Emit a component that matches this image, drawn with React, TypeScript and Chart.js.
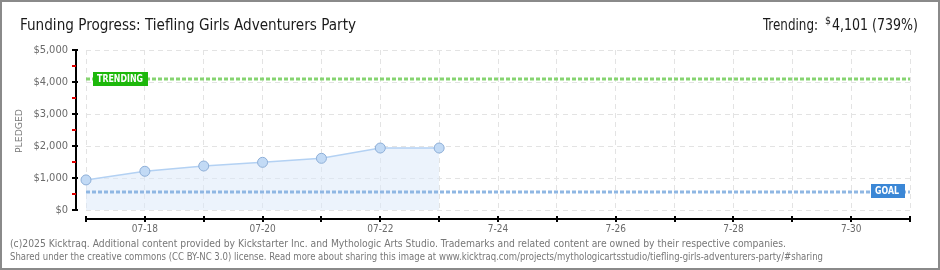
import React, { useEffect, useRef } from "react";
import { Chart, registerables } from "chart.js";

Chart.register(...registerables);

const days = ["07-17", "07-18", "07-19", "07-20", "07-21", "07-22", "07-23", "07-24", "07-25", "07-26", "07-27", "07-28", "07-29", "07-30", "07-31"];
const xTickLabels = ["", "07-18", "", "07-20", "", "07-22", "", "7-24", "", "7-26", "", "7-28", "", "7-30", ""];
const pledged = [940, 1210, 1375, 1490, 1615, 1937, 1937];
const goal = 555;
const trending = 4101;
const yTicks = [0, 1000, 2000, 3000, 4000, 5000];
const yMinorTicks = [500, 1500, 2500, 3500, 4500];
const title = "Funding Progress: Tiefling Girls Adventurers Party";
const trendingText = "Trending:";
const trendingAmount = "4,101 (739%)";
const footer1 = "(c)2025 Kicktraq. Additional content provided by Kickstarter Inc. and Mythologic Arts Studio. Trademarks and related content are owned by their respective companies.";
const footer2 = "Shared under the creative commons (CC BY-NC 3.0) license. Read more about sharing this image at www.kicktraq.com/projects/mythologicartsstudio/tiefling-girls-adventurers-party/#sharing";

const FONT = "'DejaVu Sans Condensed', 'DejaVu Sans', sans-serif";

function fitText(ctx: CanvasRenderingContext2D, text: string, x: number, y: number, w: number) {
  const m = ctx.measureText(text).width;
  ctx.save();
  ctx.translate(x, y);
  ctx.scale(w / m, 1);
  ctx.fillText(text, 0, 0);
  ctx.restore();
}

const decor = {
  id: "decor",
  beforeDraw(chart: any) {
    const ctx = chart.ctx as CanvasRenderingContext2D;
    ctx.save();
    ctx.fillStyle = "#ffffff";
    ctx.fillRect(0, 0, chart.width, chart.height);
    ctx.restore();
  },
  afterDatasetsDraw(chart: any) {
    const ctx = chart.ctx as CanvasRenderingContext2D;
    const ys = chart.scales.y;
    const xs = chart.scales.x;
    const area = chart.chartArea;
    ctx.save();
    // goal line
    const gy = Math.round(ys.getPixelForValue(goal));
    ctx.setLineDash([4, 2]);
    ctx.lineWidth = 3;
    ctx.strokeStyle = "#8fb7e3";
    ctx.beginPath();
    ctx.moveTo(area.left, gy);
    ctx.lineTo(area.right, gy);
    ctx.stroke();
    // trending line
    const ty = Math.round(ys.getPixelForValue(trending));
    ctx.strokeStyle = "#86d471";
    ctx.beginPath();
    ctx.moveTo(area.left, ty);
    ctx.lineTo(area.right, ty);
    ctx.stroke();
    ctx.setLineDash([]);

    // trending label
    ctx.fillStyle = "#1db80b";
    ctx.fillRect(area.left + 7, ty - 7, 55, 14);
    ctx.fillStyle = "#ffffff";
    ctx.font = `bold 10px ${FONT}`;
    ctx.textBaseline = "middle";
    fitText(ctx, "TRENDING", area.left + 11, ty + 0.5, 46);
    // goal label
    ctx.fillStyle = "#3b87d6";
    ctx.fillRect(area.right - 39, gy - 8, 34, 14);
    ctx.fillStyle = "#ffffff";
    fitText(ctx, "GOAL", area.right - 35, gy - 0.5, 24);

    // y axis
    const axX = area.left - 10;
    ctx.strokeStyle = "#000000";
    ctx.lineWidth = 2;
    ctx.beginPath();
    ctx.moveTo(axX, ys.getPixelForValue(5000));
    ctx.lineTo(axX, ys.getPixelForValue(0) + 1);
    ctx.stroke();
    yTicks.forEach((v) => {
      const p = Math.round(ys.getPixelForValue(v));
      ctx.beginPath();
      ctx.moveTo(axX - 4, p);
      ctx.lineTo(axX + 2, p);
      ctx.stroke();
    });
    ctx.strokeStyle = "#e00000";
    yMinorTicks.forEach((v) => {
      const p = Math.round(ys.getPixelForValue(v));
      ctx.beginPath();
      ctx.moveTo(axX - 4, p);
      ctx.lineTo(axX, p);
      ctx.stroke();
    });
    // x axis
    const axY = area.bottom + 9;
    ctx.strokeStyle = "#000000";
    ctx.beginPath();
    ctx.moveTo(area.left - 1, axY);
    ctx.lineTo(area.right + 1, axY);
    ctx.stroke();
    days.forEach((_, i) => {
      const p = Math.round(xs.getPixelForValue(i));
      ctx.beginPath();
      ctx.moveTo(p, axY - 3);
      ctx.lineTo(p, axY + 3);
      ctx.stroke();
    });

    // PLEDGED
    ctx.save();
    ctx.translate(20, 131);
    ctx.rotate(-Math.PI / 2);
    ctx.fillStyle = "#777777";
    ctx.font = `8px ${FONT}`;
    ctx.textBaseline = "middle";
    ctx.textAlign = "left";
    fitText(ctx, "PLEDGED", -22, 0, 44);
    ctx.restore();

    // title
    ctx.fillStyle = "#1a1a1a";
    ctx.textBaseline = "alphabetic";
    ctx.font = `16px ${FONT}`;
    fitText(ctx, title, 20, 30, 336);
    fitText(ctx, trendingText, 763, 30, 55);
    fitText(ctx, trendingAmount, 832, 30, 86);
    ctx.font = `10px ${FONT}`;
    fitText(ctx, "$", 825, 24, 6);

    // footer
    ctx.fillStyle = "#777777";
    ctx.font = `10px ${FONT}`;
    fitText(ctx, footer1, 10, 247, 776);
    fitText(ctx, footer2, 10, 260, 813);

    // border
    ctx.strokeStyle = "#8a8a8a";
    ctx.lineWidth = 2;
    ctx.strokeRect(1, 1, chart.width - 2, chart.height - 2);
    ctx.restore();
  },
};

export default function App() {
  const ref = useRef<HTMLCanvasElement | null>(null);
  useEffect(() => {
    document.body.style.margin = "0";
    const canvas = ref.current!;
    const chart = new Chart(canvas, {
      type: "line",
      data: {
        labels: days,
        datasets: [
          {
            data: pledged,
            borderColor: "#b3d1f3",
            borderWidth: 1.5,
            backgroundColor: "rgba(220, 234, 250, 0.55)",
            fill: "origin",
            tension: 0,
            pointRadius: 5,
            pointBackgroundColor: "#c2daf5",
            pointBorderColor: "#8eafd8",
            pointBorderWidth: 1,
          },
        ],
      },
      options: {
        responsive: false,
        animation: false,
        devicePixelRatio: 1,
        layout: { padding: { left: 0, right: 30, top: 50, bottom: 30 } },
        plugins: { legend: { display: false }, tooltip: { enabled: false } },
        scales: {
          x: {
            type: "category",
            offset: false,
            border: { display: false, dash: [5, 4] },
            grid: {
              color: "#e3e3e3",
              lineWidth: 1,
              drawTicks: false,
              tickLength: 0,
            },
            ticks: {
              autoSkip: false,
              maxRotation: 0,
              padding: 13,
              color: "#6a6a6a",
              font: { family: FONT, size: 10 },
              callback: (_v: any, i: number) => xTickLabels[i],
            },
            afterFit: (s: any) => {
              s.height = 30;
            },
          } as any,
          y: {
            min: 0,
            max: 5000,
            border: { display: false, dash: [5, 4] },
            grid: {
              color: "#e3e3e3",
              lineWidth: 1,
              drawTicks: false,
              tickLength: 0,
            },
            ticks: {
              stepSize: 1000,
              padding: 18,
              color: "#6a6a6a",
              font: { family: FONT, size: 11 },
              callback: (v: any) => "$" + Number(v).toLocaleString("en-US"),
            },
            afterFit: (s: any) => {
              s.width = 86;
            },
          } as any,
        },
      },
      plugins: [decor],
    });
    return () => chart.destroy();
  }, []);
  return <canvas ref={ref} width={940} height={270} style={{ display: "block", width: 940, height: 270 }} />;
}
